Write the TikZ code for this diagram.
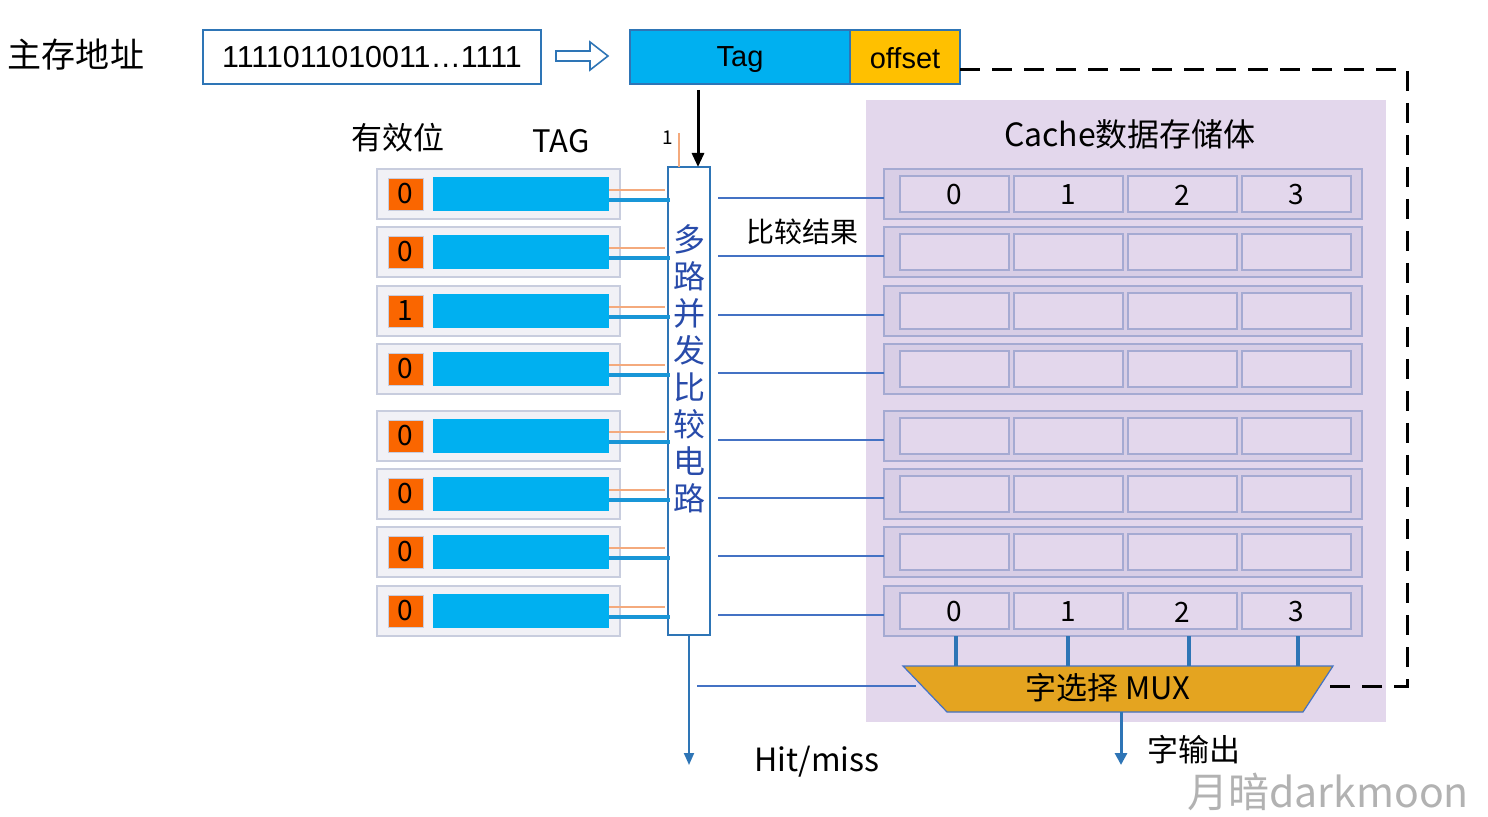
\documentclass[tikz,border=0pt]{standalone}
\usepackage{fontspec}
\setmainfont{Noto Sans CJK SC}
\newfontfamily\arialf{Liberation Sans}
\usetikzlibrary{fit,calc,arrows.meta}
\definecolor{cyanbar}{RGB}{0,176,240}
\definecolor{validor}{RGB}{250,102,0}
\definecolor{offy}{RGB}{255,192,0}
\definecolor{muxgold}{RGB}{228,164,32}
\definecolor{panel}{RGB}{227,215,236}
\definecolor{crow}{RGB}{216,206,230}
\definecolor{crowb}{RGB}{165,170,210}
\definecolor{lrow}{RGB}{241,241,246}
\definecolor{lrowb}{RGB}{200,205,222}
\definecolor{cmpb}{RGB}{46,117,182}
\definecolor{thinb}{RGB}{68,114,196}
\definecolor{thickb}{RGB}{25,150,215}
\definecolor{orl}{RGB}{244,170,125}
\definecolor{vtext}{RGB}{40,75,170}
\begin{document}
\begin{tikzpicture}[x=0.5pt,y=-0.5pt,
  boxfit/.style={inner sep=0pt,outer sep=0pt},
  lrowbox/.style={boxfit,fill=lrow,draw=lrowb,line width=0.6pt},
  validbox/.style={boxfit,fill=validor,draw=lrowb,line width=0.4pt},
  tagbar/.style={boxfit,fill=cyanbar},
  crowbox/.style={boxfit,fill=crow,draw=crowb,line width=0.6pt},
  cellbox/.style={boxfit,fill=panel,draw=crowb,line width=0.6pt},
  thinline/.style={draw=thinb,line width=0.6pt},
  orline/.style={draw=orl,line width=0.6pt},
  thickline/.style={draw=thickb,line width=1.8pt},
  lbl/.style={inner sep=0pt,font=\fontsize{15}{18}\selectfont},
  digit/.style={inner sep=0pt,font=\fontsize{14}{16}\selectfont}]
\useasboundingbox (0,0) rectangle (1488,817);
% cache panel
\node[boxfit,fill=panel,fit={(866,100) (1386,722)}] (panel) {};
% title left
\node[lbl,font=\fontsize{17}{20}\selectfont] (zcdz) at (76,55) {主存地址};
\node[boxfit,draw=cmpb,line width=1pt,fit={(203,30) (541,84)}] (addr) {};
\node[inner sep=0pt,font=\arialf\fontsize{15.2}{17}\selectfont] at (addr.center) {1111011010011…1111};
% hollow arrow
\draw[draw=cmpb,fill=white,line width=0.8pt] (556,51) -- (590,51) -- (590,42) -- (608,56) -- (590,70) -- (590,61) -- (556,61) -- cycle;
% Tag / offset
\node[boxfit,fill=cyanbar,draw=cmpb,line width=0.8pt,fit={(630,30) (850,84)}] (tag) {};
\node[inner sep=0pt,font=\arialf\fontsize{14.5}{16}\selectfont] at ($(tag.center)+(0,3)$) {Tag};
\node[boxfit,fill=offy,draw=cmpb,line width=0.8pt,fit={(850,30) (960,84)}] (off) {};
\node[inner sep=0pt,font=\arialf\fontsize{14.5}{16}\selectfont] at ($(off.center)+(0,1)$) {offset};
% headers
\node[lbl,font=\fontsize{15.5}{18}\selectfont] at (398,138) {有效位};
\node[lbl,font=\fontsize{15.5}{18}\selectfont] at (561,141) {TAG};
\node[lbl,font=\fontsize{16}{18}\selectfont] at (1130,134) {Cache数据存储体};
% comparator
\node[boxfit,fill=white,draw=cmpb,line width=1.1pt,fit={(668,167) (710,635)}] (cmp) {};
\node[inner sep=0pt,align=center,text=vtext,font=\fontsize{16}{18.5}\selectfont] at (689,369) {多\\路\\并\\发\\比\\较\\电\\路};
% input "1"
\node[inner sep=0pt,font=\fontsize{9.5}{10}\selectfont] (one) at (668,138) {1};
\coordinate (onetop) at (679,133);
\draw[orline] (onetop) -- (cmp.north -| onetop);
% tag arrow
\draw[line width=1.5pt,-{Triangle[length=7pt,width=6pt]}] (tag.south -| 698,0) ++(0,6) -- (cmp.north -| 698,0);
% rows
\foreach \i/\c/\b in {1/194/0,2/252/0,3/311/1,4/369/0,5/436/0,6/494/0,7/552/0,8/611/0}{
  \node[lrowbox,fit={(377,\c-25) (620,\c+25)}] (row\i) {};
  \node[validbox,fit={(388,\c-16) (423,\c+16)}] (v\i) {};
  \node[digit,font=\fontsize{14}{15}\selectfont] at (v\i.center) {\b};
  \node[tagbar,fit={(433,\c-17) (609,\c+17)}] (t\i) {};
  \draw[orline] ($(t\i.east)+(0,-4)$) -- ($(cmp.west |- t\i.east)+(-3,-4)$);
  \draw[thickline] ($(t\i.east)+(0,6)$) -- ($(cmp.west |- t\i.east)+(2,6)$);
  \node[crowbox,fit={(884,\c-25) (1362,\c+25)}] (c\i) {};
  \foreach \k in {0,1,2,3}{
    \node[cellbox,fit={(900+114*\k,\c-18) (1009+114*\k,\c+18)}] (cell\i-\k) {};
  }
  \draw[thinline] ($(cmp.east |- c\i.west)+(8,4)$) -- ($(c\i.west)+(0,4)$);
}
\foreach \k in {0,1,2,3}{
  \node[digit] at ($(cell1-\k.center)+(0,1)$) {\k};
  \node[digit] at ($(cell8-\k.center)+(0,1)$) {\k};
}
\node[lbl,font=\fontsize{14}{16}\selectfont] at (802,232) {比较结果};
% MUX
\draw[fill=muxgold,draw=thinb,line width=0.6pt] (903,666) -- (1333,666) -- (1303,712) -- (947,712) -- cycle;
\node[boxfit,fit={(947,666) (1303,712)}] (mux) {};
\node[inner sep=0pt,font=\fontsize{15.5}{18}\selectfont] at (1108,688) {字选择 MUX};
\foreach \k/\x in {0/956,1/1068,2/1189,3/1298}{
  \draw[draw=cmpb,line width=1.6pt] (c8.south -| \x,0) -- (mux.north -| \x,0);
}
% mux select line from comparator region
\coordinate (mselA) at (697,686);
\coordinate (mselB) at (916,686);
\draw[thinline] (mselA) -- (mselB);
% hit/miss
\coordinate (hm) at (689,765);
\draw[draw=cmpb,line width=1pt,-{Triangle[length=6pt,width=5pt]}] (cmp.south) -- (hm);
\node[lbl,font=\fontsize{16}{18}\selectfont] at (817,762) {Hit/miss};
% word output
\coordinate (wo) at (1121,765);
\draw[draw=cmpb,line width=1.5pt,-{Triangle[length=6pt,width=6pt]}] (mux.south -| wo) -- (wo);
\node[lbl,font=\fontsize{15.5}{18}\selectfont] at (1194,750) {字输出};
% dashed offset line
\coordinate (dA) at (960,70);
\coordinate (dB) at (1407,70);
\coordinate (dC) at (1407,686);
\coordinate (dD) at (1324,686);
\draw[line width=1.5pt,dash pattern=on 10pt off 6pt] (dA) -- (dB) -- (dC) -- (dD);
% watermark
\node[inner sep=0pt,text=black!30,font=\fontsize{20.5}{24}\selectfont] at (1328,792) {月暗darkmoon};
\end{tikzpicture}
\end{document}
